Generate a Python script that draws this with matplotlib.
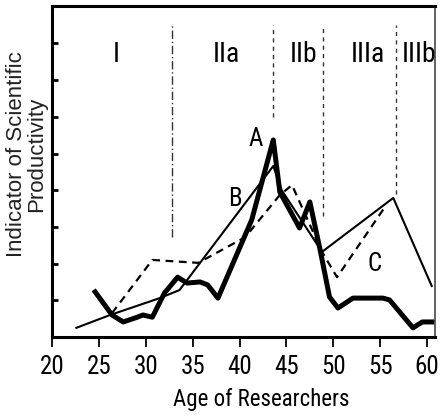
import matplotlib
matplotlib.use("Agg")
import matplotlib.pyplot as plt
from matplotlib import font_manager as fm

# ---- data ----
a_age = [24.6, 26.4, 27.6, 29.1, 29.7, 30.7, 32.0, 33.4, 34.4, 35.8, 36.6, 37.7,
         41.3, 43.6, 44.3, 46.4, 47.5, 48.6, 49.6, 50.5, 52.1, 55.3,
         56.0, 58.5, 59.5, 60.5]
a_val = [1.23, 0.60, 0.41, 0.54, 0.60, 0.54, 1.20, 1.63, 1.47, 1.50, 1.42, 1.06,
         3.19, 5.37, 3.95, 2.97, 3.68, 2.37, 1.09, 0.79, 1.06, 1.06,
         1.01, 0.25, 0.41, 0.41]

b_age = [22.6, 26.2, 31.5, 33.6, 43.6, 44.5, 48.8, 56.4, 60.5]
b_val = [0.25, 0.60, 1.06, 1.28, 4.66, 4.00, 2.32, 3.79, 1.39]

c_age = [26.4, 30.7, 35.6, 40.6, 44.3, 45.6, 48.8, 50.4, 55.5]
c_val = [0.65, 2.10, 2.02, 2.72, 3.87, 4.14, 2.32, 1.63, 3.54]

curve_labels = ["A", "B", "C"]
label_pos = [(41.7, 5.4), (39.5, 3.75), (54.45, 2.0)]

stage_names = ["I", "IIa", "IIb", "IIIa", "IIIb"]
stage_x = [26.8, 38.6, 46.8, 53.7, 59.1]
boundaries = [32.8, 43.6, 48.9, 56.7]
boundary_bottom = [2.72, 6.0, 3.3, 3.9]

xticks = [20, 25, 30, 35, 40, 45, 50, 55, 60]
yticks = [0, 1, 2, 3, 4, 5, 6, 7, 8]

# ---- fonts ----
avail = {f.name for f in fm.fontManager.ttflist}
narrow = None
for cand in ["Liberation Sans Narrow", "Roboto Condensed", "Open Sans Condensed",
             "Noto Sans Condensed", "Noto Sans ExtraCondensed", "DejaVu Sans Condensed"]:
    if cand in avail:
        narrow = cand
        break
narrow_stretch = "normal"
if narrow is None:
    has_dj_cond = any(f.name == "DejaVu Sans" and str(f.stretch) in ("condensed", "semi-condensed")
                      for f in fm.fontManager.ttflist)
    if has_dj_cond:
        narrow = "DejaVu Sans"
        narrow_stretch = "condensed"
    else:
        narrow = "Liberation Sans"
narrow_fam = [narrow, "DejaVu Sans"]
wide_fam = ["Liberation Sans", "DejaVu Sans"]
nkw = dict(family=narrow_fam, stretch=narrow_stretch)

fig = plt.figure(figsize=(4.4, 4.16), dpi=100)
ax = fig.add_axes([52/440, 79/416, 383/440, 331/416])

ax.plot(a_age, a_val, color="black", lw=3.6, solid_joinstyle="round", zorder=4)
ax.plot(b_age, b_val, color="black", lw=1.5, zorder=3)
ax.plot(c_age, c_val, color="black", lw=1.6, ls=(0, (3.5, 2.5)), zorder=3)

styles = [(0, (6, 2, 1, 2)), (0, (3, 3)), (0, (3, 3)), (0, (3, 3))]
for bx, bb, st in zip(boundaries, boundary_bottom, styles):
    ax.plot([bx, bx], [bb, 8.5], color="#333333", lw=1.0, ls=st, zorder=2)

for name, sx in zip(stage_names, stage_x):
    ax.text(sx, 7.7, name, ha="center", va="center", fontsize=20, **nkw)

for lab, (lx, ly) in zip(curve_labels, label_pos):
    ax.text(lx, ly, lab, ha="center", va="center", fontsize=18, **nkw)

ax.set_xlim(20, 60.85)
ax.set_ylim(0, 9.02)
ax.set_xticks(xticks)
ax.set_xticklabels([str(t) for t in xticks], fontsize=18, **nkw)
ax.set_yticks(yticks)
ax.set_yticklabels([])
ax.tick_params(axis="x", direction="out", length=7, width=1.3, pad=6)
ax.tick_params(axis="y", direction="in", length=4.5, width=2)

for s in ["left", "bottom", "top"]:
    ax.spines[s].set_linewidth(2.2)
    ax.spines[s].set_color("black")
ax.spines["right"].set_linewidth(1.3)
ax.spines["right"].set_color("#555555")

ax.set_xlabel("Age of Researchers", fontsize=16.5, **nkw)
ax.xaxis.set_label_coords(0.546, -0.155)
fig.text(27/440, 1 - 154/416, "Indicator of Scientific\nProductivity", rotation=90,
         ha="center", va="center", multialignment="center", fontsize=16,
         family=wide_fam, color="#222222", linespacing=0.95)

fig.savefig("out.png", dpi=100)
